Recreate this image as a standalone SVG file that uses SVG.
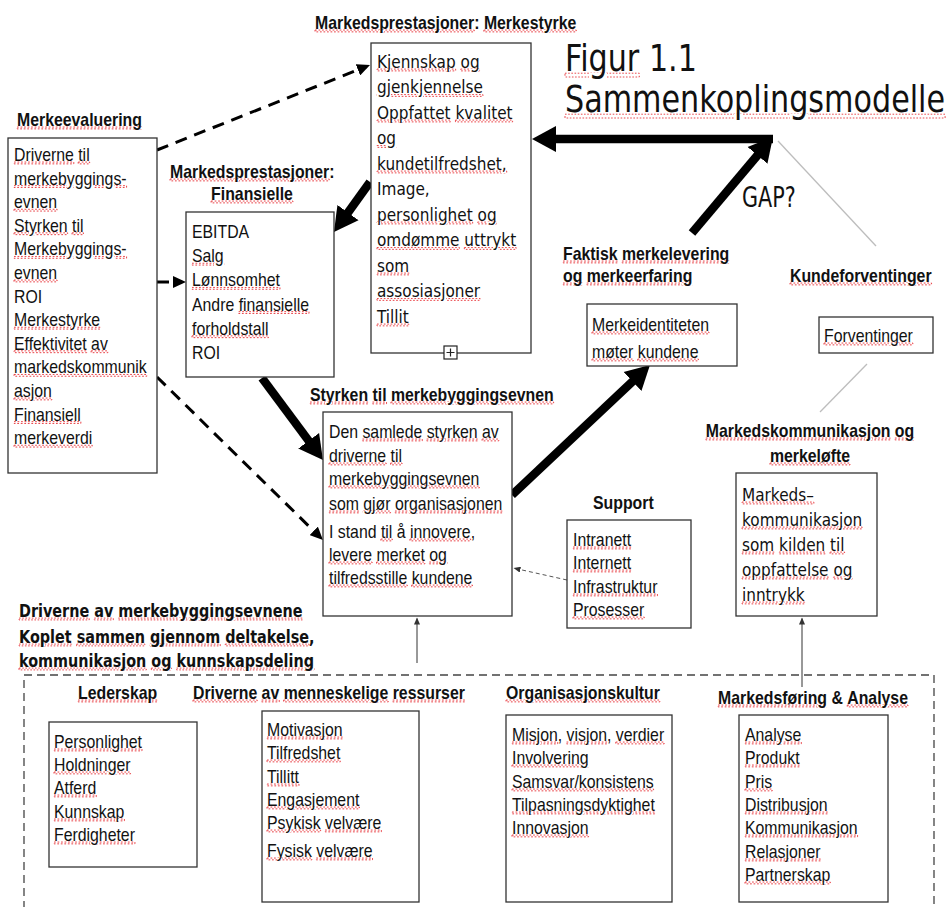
<svg xmlns="http://www.w3.org/2000/svg" width="948" height="907" viewBox="0 0 948 907">
<defs>
<style>
.a{font-family:"Liberation Sans",Arial,sans-serif;font-size:18px;fill:#111}
.b{font-family:"Liberation Sans",Arial,sans-serif;font-size:18px;font-weight:bold;fill:#111}
.l{font-family:"DejaVu Sans","Noto Sans",sans-serif;font-size:18px;fill:#111}
.lb{font-family:"DejaVu Sans","Noto Sans",sans-serif;font-size:18px;font-weight:bold;fill:#111}
.u{text-decoration:underline;fill:none;stroke:#e8383d;stroke-width:1;stroke-dasharray:2 2}
.k{fill:#111;stroke:none}
.box{fill:#fff;stroke:#333;stroke-width:1.3}
.thick{fill:none;stroke:#000;stroke-width:8.5}
.dash{fill:none;stroke:#000;stroke-width:3;stroke-dasharray:12 8}
.thin{fill:none;stroke:#333;stroke-width:1}
.gray{fill:none;stroke:#bdbdbd;stroke-width:1.3}
</style>
<marker id="big" markerUnits="userSpaceOnUse" markerWidth="26" markerHeight="28" viewBox="0 0 26 28" refX="14" refY="14" orient="auto"><path d="M0,1 L24,14 L0,27 Z" fill="#000"/></marker>
<marker id="dsh" markerUnits="userSpaceOnUse" markerWidth="14" markerHeight="12" viewBox="0 0 14 12" refX="9" refY="6" orient="auto"><path d="M0,0 L13,6 L0,12 Z" fill="#000"/></marker>
<marker id="sm" markerUnits="userSpaceOnUse" markerWidth="8" markerHeight="6" viewBox="0 0 8 6" refX="6" refY="3" orient="auto"><path d="M0,0 L7,3 L0,6 Z" fill="#333"/></marker>
</defs>
<rect width="948" height="907" fill="#fff"/>

<g id="title">
<text class="l" style="font-size:38px" transform="translate(565,71) scale(0.795,1)"><tspan class="u"><tspan class="k">Figur</tspan></tspan> 1.1</text>
<text class="l" style="font-size:38px" transform="translate(565,112) scale(0.795,1)"><tspan class="u"><tspan class="k">Sammenkoplingsmodelle</tspan></tspan></text>
</g>

<g id="container">
<rect x="24" y="675" width="910" height="260" fill="none" stroke="#444" stroke-width="1.3" stroke-dasharray="8 5"/>
</g>

<g id="connectors">
<path class="gray" d="M778,141 L876,246"/>
<path class="gray" d="M867,364 L820,412"/>
<path class="thick" d="M773,139 L542,139" marker-end="url(#big)"/>
<path class="thick" d="M692,233 L766.5,144.6" marker-end="url(#big)"/>
<path class="thick" d="M370,182 L339.8,223.9" marker-end="url(#big)"/>
<path class="thick" d="M262,378 L317,452" marker-end="url(#big)"/>
<path class="thick" d="M512,495 L642.7,371.9" marker-end="url(#big)"/>
<path class="dash" d="M157,150 L366.3,66.5" marker-end="url(#dsh)"/>
<path class="dash" d="M157,282 L182,282" marker-end="url(#dsh)"/>
<path class="dash" d="M157,377 L320.1,537.2" marker-end="url(#dsh)"/>
<path fill="none" stroke="#555" stroke-width="1" stroke-dasharray="4 3" d="M567,580 L514.5,568.3" marker-end="url(#sm)"/>
<path class="thin" d="M417,663 L417,618.5" marker-end="url(#sm)"/>
<path class="thin" d="M802,687 L802,618.5" marker-end="url(#sm)"/>
</g>

<text class="l" style="font-size:28px" transform="translate(742,207) scale(0.74,1)">GAP?</text>

<g id="merkeevaluering">
<text class="b" transform="translate(17,126) scale(0.88,1)"><tspan class="u"><tspan class="k">Merkeevaluering</tspan></tspan></text>
<rect class="box" x="8" y="138" width="149" height="335"/>
<text class="a" transform="translate(14,161) scale(0.88,1)">
<tspan x="0" y="0"><tspan class="u"><tspan class="k">Driverne</tspan></tspan> <tspan class="u"><tspan class="k">til</tspan></tspan></tspan>
<tspan x="0" y="23.6"><tspan class="u"><tspan class="k">merkebyggings-</tspan></tspan></tspan>
<tspan x="0" y="47.2"><tspan class="u"><tspan class="k">evnen</tspan></tspan></tspan>
<tspan x="0" y="70.8"><tspan class="u"><tspan class="k">Styrken</tspan></tspan> <tspan class="u"><tspan class="k">til</tspan></tspan></tspan>
<tspan x="0" y="94.4"><tspan class="u"><tspan class="k">Merkebyggings-</tspan></tspan></tspan>
<tspan x="0" y="118"><tspan class="u"><tspan class="k">evnen</tspan></tspan></tspan>
<tspan x="0" y="141.6">ROI</tspan>
<tspan x="0" y="165.2"><tspan class="u"><tspan class="k">Merkestyrke</tspan></tspan></tspan>
<tspan x="0" y="188.8"><tspan class="u"><tspan class="k">Effektivitet</tspan></tspan> <tspan class="u"><tspan class="k">av</tspan></tspan></tspan>
<tspan x="0" y="212.4"><tspan class="u"><tspan class="k">markedskommunik</tspan></tspan></tspan>
<tspan x="0" y="236"><tspan class="u"><tspan class="k">asjon</tspan></tspan></tspan>
<tspan x="0" y="259.6"><tspan class="u"><tspan class="k">Finansiell</tspan></tspan></tspan>
<tspan x="0" y="283.2"><tspan class="u"><tspan class="k">merkeverdi</tspan></tspan></tspan>
</text>
</g>

<g id="merkestyrke">
<text class="b" transform="translate(315,29) scale(0.88,1)"><tspan class="u"><tspan class="k">Markedsprestasjoner</tspan></tspan>: <tspan class="u"><tspan class="k">Merkestyrke</tspan></tspan></text>
<rect class="box" x="371" y="43" width="160" height="310"/>
<text class="l" transform="translate(377,68) scale(0.85,1)">
<tspan x="0" y="0"><tspan class="u"><tspan class="k">Kjennskap</tspan></tspan> <tspan class="u"><tspan class="k">og</tspan></tspan></tspan>
<tspan x="0" y="25.5"><tspan class="u"><tspan class="k">gjenkjennelse</tspan></tspan></tspan>
<tspan x="0" y="51"><tspan class="u"><tspan class="k">Oppfattet</tspan></tspan> <tspan class="u"><tspan class="k">kvalitet</tspan></tspan></tspan>
<tspan x="0" y="76.5"><tspan class="u"><tspan class="k">og</tspan></tspan></tspan>
<tspan x="0" y="102"><tspan class="u"><tspan class="k">kundetilfredshet,</tspan></tspan></tspan>
<tspan x="0" y="127.5">Image,</tspan>
<tspan x="0" y="153"><tspan class="u"><tspan class="k">personlighet</tspan></tspan> <tspan class="u"><tspan class="k">og</tspan></tspan></tspan>
<tspan x="0" y="178.5"><tspan class="u"><tspan class="k">omdømme</tspan></tspan> <tspan class="u"><tspan class="k">uttrykt</tspan></tspan></tspan>
<tspan x="0" y="204"><tspan class="u"><tspan class="k">som</tspan></tspan></tspan>
<tspan x="0" y="229.5"><tspan class="u"><tspan class="k">assosiasjoner</tspan></tspan></tspan>
<tspan x="0" y="255"><tspan class="u"><tspan class="k">Tillit</tspan></tspan></tspan>
</text>
<rect x="444" y="346" width="13" height="13" fill="#fff" stroke="#222" stroke-width="1.2"/>
<path d="M446.5,352.5 H454.5 M450.5,348.5 V356.5" stroke="#222" stroke-width="1.2" fill="none"/>
</g>

<g id="finansielle">
<text class="b" transform="translate(170,178) scale(0.88,1)"><tspan class="u"><tspan class="k">Markedsprestasjoner</tspan></tspan>:</text>
<text class="b" text-anchor="middle" transform="translate(252,200) scale(0.88,1)"><tspan class="u"><tspan class="k">Finansielle</tspan></tspan></text>
<rect class="box" x="186" y="212" width="148" height="165"/>
<text class="a" transform="translate(192,238) scale(0.88,1)">
<tspan x="0" y="0">EBITDA</tspan>
<tspan x="0" y="24.2"><tspan class="u"><tspan class="k">Salg</tspan></tspan></tspan>
<tspan x="0" y="48.4"><tspan class="u"><tspan class="k">Lønnsomhet</tspan></tspan></tspan>
<tspan x="0" y="72.6">Andre <tspan class="u"><tspan class="k">finansielle</tspan></tspan></tspan>
<tspan x="0" y="96.8"><tspan class="u"><tspan class="k">forholdstall</tspan></tspan></tspan>
<tspan x="0" y="121">ROI</tspan>
</text>
</g>

<g id="styrken">
<text class="b" transform="translate(310,401) scale(0.88,1)"><tspan class="u"><tspan class="k">Styrken</tspan></tspan> <tspan class="u"><tspan class="k">til</tspan></tspan> <tspan class="u"><tspan class="k">merkebyggingsevnen</tspan></tspan></text>
<rect class="box" x="323" y="412" width="189" height="204"/>
<text class="a" transform="translate(329,438) scale(0.88,1)">
<tspan x="0" y="0">Den <tspan class="u"><tspan class="k">samlede</tspan></tspan> <tspan class="u"><tspan class="k">styrken</tspan></tspan> <tspan class="u"><tspan class="k">av</tspan></tspan></tspan>
<tspan x="0" y="24"><tspan class="u"><tspan class="k">driverne</tspan></tspan> <tspan class="u"><tspan class="k">til</tspan></tspan></tspan>
<tspan x="0" y="47"><tspan class="u"><tspan class="k">merkebyggingsevnen</tspan></tspan></tspan>
<tspan x="0" y="72"><tspan class="u"><tspan class="k">som</tspan></tspan> <tspan class="u"><tspan class="k">gjør</tspan></tspan> <tspan class="u"><tspan class="k">organisasjonen</tspan></tspan></tspan>
<tspan x="0" y="100">I stand <tspan class="u"><tspan class="k">til</tspan></tspan> å <tspan class="u"><tspan class="k">innovere</tspan></tspan>,</tspan>
<tspan x="0" y="123"><tspan class="u"><tspan class="k">levere</tspan></tspan> <tspan class="u"><tspan class="k">merket</tspan></tspan> <tspan class="u"><tspan class="k">og</tspan></tspan></tspan>
<tspan x="0" y="146"><tspan class="u"><tspan class="k">tilfredsstille</tspan></tspan> <tspan class="u"><tspan class="k">kundene</tspan></tspan></tspan>
</text>
</g>

<g id="merkeidentitet">
<text class="b" transform="translate(563,260) scale(0.88,1)"><tspan x="0" y="0"><tspan class="u"><tspan class="k">Faktisk</tspan></tspan> <tspan class="u"><tspan class="k">merkelevering</tspan></tspan></tspan><tspan x="0" y="22"><tspan class="u"><tspan class="k">og</tspan></tspan> <tspan class="u"><tspan class="k">merkeerfaring</tspan></tspan></tspan></text>
<rect class="box" x="587" y="304" width="150" height="62"/>
<text class="a" transform="translate(592,331) scale(0.88,1)"><tspan x="0" y="0"><tspan class="u"><tspan class="k">Merkeidentiteten</tspan></tspan></tspan><tspan x="0" y="27"><tspan class="u"><tspan class="k">møter</tspan></tspan> <tspan class="u"><tspan class="k">kundene</tspan></tspan></tspan></text>
</g>

<g id="kundeforventinger">
<text class="b" transform="translate(790,282) scale(0.88,1)"><tspan class="u"><tspan class="k">Kundeforventinger</tspan></tspan></text>
<rect class="box" x="819" y="317" width="114" height="36"/>
<text class="a" transform="translate(824,342) scale(0.88,1)"><tspan class="u"><tspan class="k">Forventinger</tspan></tspan></text>
</g>

<g id="markedskommunikasjon">
<text class="b" text-anchor="middle" transform="translate(810,437) scale(0.88,1)"><tspan x="0" y="0"><tspan class="u"><tspan class="k">Markedskommunikasjon</tspan></tspan> <tspan class="u"><tspan class="k">og</tspan></tspan></tspan><tspan x="0" y="25"><tspan class="u"><tspan class="k">merkeløfte</tspan></tspan></tspan></text>
<rect class="box" x="736" y="473" width="141" height="143"/>
<text class="l" transform="translate(742,501) scale(0.85,1)">
<tspan x="0" y="0"><tspan class="u"><tspan class="k">Markeds–</tspan></tspan></tspan>
<tspan x="0" y="25"><tspan class="u"><tspan class="k">kommunikasjon</tspan></tspan></tspan>
<tspan x="0" y="50"><tspan class="u"><tspan class="k">som</tspan></tspan> <tspan class="u"><tspan class="k">kilden</tspan></tspan> <tspan class="u"><tspan class="k">til</tspan></tspan></tspan>
<tspan x="0" y="75"><tspan class="u"><tspan class="k">oppfattelse</tspan></tspan> <tspan class="u"><tspan class="k">og</tspan></tspan></tspan>
<tspan x="0" y="100"><tspan class="u"><tspan class="k">inntrykk</tspan></tspan></tspan>
</text>
</g>

<g id="support">
<text class="b" transform="translate(593,509) scale(0.88,1)">Support</text>
<rect class="box" x="567" y="520" width="124" height="108"/>
<text class="a" transform="translate(573,546) scale(0.88,1)">
<tspan x="0" y="0"><tspan class="u"><tspan class="k">Intranett</tspan></tspan></tspan>
<tspan x="0" y="23"><tspan class="u"><tspan class="k">Internett</tspan></tspan></tspan>
<tspan x="0" y="47"><tspan class="u"><tspan class="k">Infrastruktur</tspan></tspan></tspan>
<tspan x="0" y="70"><tspan class="u"><tspan class="k">Prosesser</tspan></tspan></tspan>
</text>
</g>

<g id="drivere">
<text class="lb" transform="translate(19,617) scale(0.8,1)">
<tspan x="0" y="0"><tspan class="u"><tspan class="k">Driverne</tspan></tspan> <tspan class="u"><tspan class="k">av</tspan></tspan> <tspan class="u"><tspan class="k">merkebyggingsevnene</tspan></tspan></tspan>
<tspan x="0" y="26"><tspan class="u"><tspan class="k">Koplet</tspan></tspan> <tspan class="u"><tspan class="k">sammen</tspan></tspan> <tspan class="u"><tspan class="k">gjennom</tspan></tspan> <tspan class="u"><tspan class="k">deltakelse</tspan></tspan>,</tspan>
<tspan x="0" y="50"><tspan class="u"><tspan class="k">kommunikasjon</tspan></tspan> <tspan class="u"><tspan class="k">og</tspan></tspan> <tspan class="u"><tspan class="k">kunnskapsdeling</tspan></tspan></tspan>
</text>
</g>

<g id="lederskap">
<text class="b" transform="translate(78,699) scale(0.88,1)"><tspan class="u"><tspan class="k">Lederskap</tspan></tspan></text>
<rect class="box" x="49" y="722" width="148" height="145"/>
<text class="a" transform="translate(54,748) scale(0.88,1)">
<tspan x="0" y="0"><tspan class="u"><tspan class="k">Personlighet</tspan></tspan></tspan>
<tspan x="0" y="23"><tspan class="u"><tspan class="k">Holdninger</tspan></tspan></tspan>
<tspan x="0" y="46"><tspan class="u"><tspan class="k">Atferd</tspan></tspan></tspan>
<tspan x="0" y="70"><tspan class="u"><tspan class="k">Kunnskap</tspan></tspan></tspan>
<tspan x="0" y="93"><tspan class="u"><tspan class="k">Ferdigheter</tspan></tspan></tspan>
</text>
</g>

<g id="menneskelige">
<text class="b" transform="translate(193,699) scale(0.88,1)"><tspan class="u"><tspan class="k">Driverne</tspan></tspan> <tspan class="u"><tspan class="k">av</tspan></tspan> <tspan class="u"><tspan class="k">menneskelige</tspan></tspan> <tspan class="u"><tspan class="k">ressurser</tspan></tspan></text>
<rect class="box" x="262" y="711" width="157" height="191"/>
<text class="a" transform="translate(267,736) scale(0.88,1)">
<tspan x="0" y="0"><tspan class="u"><tspan class="k">Motivasjon</tspan></tspan></tspan>
<tspan x="0" y="23"><tspan class="u"><tspan class="k">Tilfredshet</tspan></tspan></tspan>
<tspan x="0" y="47"><tspan class="u"><tspan class="k">Tillitt</tspan></tspan></tspan>
<tspan x="0" y="70"><tspan class="u"><tspan class="k">Engasjement</tspan></tspan></tspan>
<tspan x="0" y="93"><tspan class="u"><tspan class="k">Psykisk</tspan></tspan> <tspan class="u"><tspan class="k">velvære</tspan></tspan></tspan>
<tspan x="0" y="121"><tspan class="u"><tspan class="k">Fysisk</tspan></tspan> <tspan class="u"><tspan class="k">velvære</tspan></tspan></tspan>
</text>
</g>

<g id="organisasjonskultur">
<text class="b" transform="translate(506,699) scale(0.88,1)"><tspan class="u"><tspan class="k">Organisasjonskultur</tspan></tspan></text>
<rect class="box" x="506" y="715" width="166" height="187"/>
<text class="a" transform="translate(512,741) scale(0.88,1)">
<tspan x="0" y="0"><tspan class="u"><tspan class="k">Misjon</tspan></tspan>, <tspan class="u"><tspan class="k">visjon</tspan></tspan>, <tspan class="u"><tspan class="k">verdier</tspan></tspan></tspan>
<tspan x="0" y="23"><tspan class="u"><tspan class="k">Involvering</tspan></tspan></tspan>
<tspan x="0" y="47"><tspan class="u"><tspan class="k">Samsvar/konsistens</tspan></tspan></tspan>
<tspan x="0" y="70"><tspan class="u"><tspan class="k">Tilpasningsdyktighet</tspan></tspan></tspan>
<tspan x="0" y="93"><tspan class="u"><tspan class="k">Innovasjon</tspan></tspan></tspan>
</text>
</g>

<g id="markedsforing">
<text class="b" transform="translate(718,704) scale(0.88,1)"><tspan class="u"><tspan class="k">Markedsføring</tspan></tspan> &amp; <tspan class="u"><tspan class="k">Analyse</tspan></tspan></text>
<rect class="box" x="739" y="715" width="149" height="187"/>
<text class="a" transform="translate(745,741) scale(0.88,1)">
<tspan x="0" y="0"><tspan class="u"><tspan class="k">Analyse</tspan></tspan></tspan>
<tspan x="0" y="23"><tspan class="u"><tspan class="k">Produkt</tspan></tspan></tspan>
<tspan x="0" y="47"><tspan class="u"><tspan class="k">Pris</tspan></tspan></tspan>
<tspan x="0" y="70"><tspan class="u"><tspan class="k">Distribusjon</tspan></tspan></tspan>
<tspan x="0" y="93"><tspan class="u"><tspan class="k">Kommunikasjon</tspan></tspan></tspan>
<tspan x="0" y="117"><tspan class="u"><tspan class="k">Relasjoner</tspan></tspan></tspan>
<tspan x="0" y="140"><tspan class="u"><tspan class="k">Partnerskap</tspan></tspan></tspan>
</text>
</g>
</svg>
